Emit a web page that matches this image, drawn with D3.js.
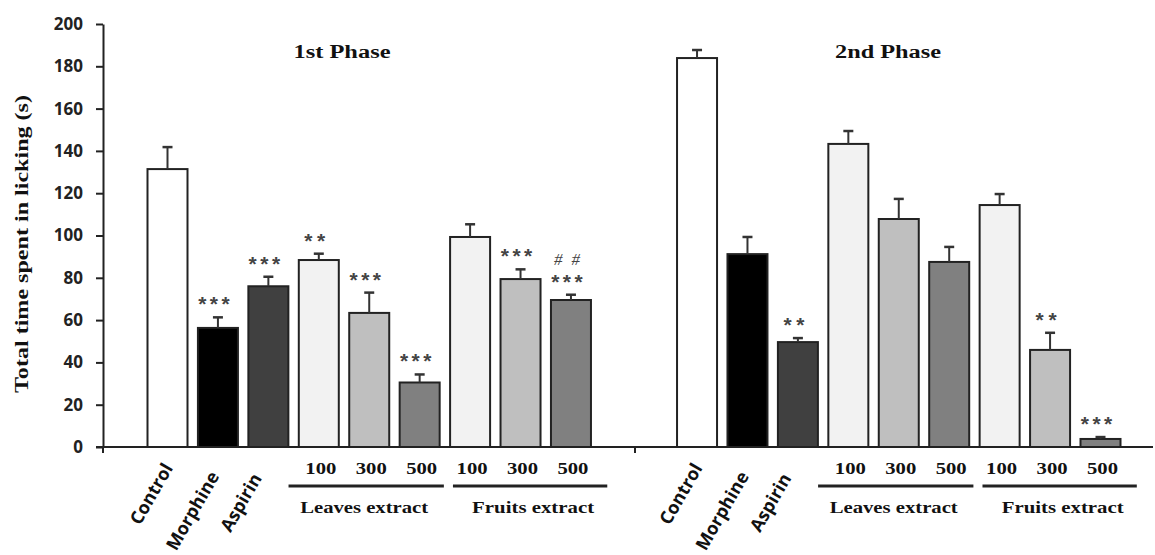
<!DOCTYPE html>
<html>
<head>
<meta charset="utf-8">
<script src="https://cdn.jsdelivr.net/npm/d3@7"></script>
<style>
  body { margin: 0; background: #fff; }
</style>
</head>
<body>
<script>
// DATA
var treatments = ["Control", "Morphine", "Aspirin", "Leaves 100", "Leaves 300", "Leaves 500", "Fruits 100", "Fruits 300", "Fruits 500"];
var phases = ["1st Phase", "2nd Phase"];
var phase1Mean = [131.4, 56.3, 76.0, 88.4, 63.4, 30.5, 99.3, 79.4, 69.5];
var phase1Err = [10.4, 5.0, 4.5, 3.0, 9.6, 3.8, 6.0, 4.6, 2.5];
var phase2Mean = [183.9, 91.2, 49.6, 143.3, 107.8, 87.5, 114.4, 45.9, 3.8];
var phase2Err = [3.8, 8.1, 1.9, 6.1, 9.5, 7.1, 5.2, 8.1, 0.9];
var phase1Stars = ["", "***", "***", "**", "***", "***", "", "***", "***"];
var phase1Hash = ["", "", "", "", "", "", "", "", "# #"];
var phase2Stars = ["", "", "**", "", "", "", "", "**", "***"];
var phase2Hash = ["", "", "", "", "", "", "", "", ""];
var drugLabels = ["Control", "Morphine", "Aspirin"];
var doses = ["100", "300", "500"];
var extracts = ["Leaves extract", "Fruits extract"];
var yTicks = [0, 20, 40, 60, 80, 100, 120, 140, 160, 180, 200];

var fills = ["#ffffff", "#000000", "#404040", "#f2f2f2", "#bfbfbf", "#808080", "#f2f2f2", "#bfbfbf", "#808080"];

var width = 1155, height = 555;
var svg = d3.select("body").append("svg")
    .attr("width", width)
    .attr("height", height);

svg.append("rect").attr("width", width).attr("height", height).attr("fill", "#fff");

// SCALES
var y = d3.scaleLinear().domain([0, 200]).range([447, 24]);
// slot index -> bar centre; second phase starts at slot 10.5
var slot = d3.scaleLinear().domain([0, 18.5]).range([167.5, 1100.5]);
var phaseOffset = [0, 10.5];
var barW = 40;

var rows = [];
phases.forEach(function(p, pi) {
    var means = pi === 0 ? phase1Mean : phase2Mean;
    var errs = pi === 0 ? phase1Err : phase2Err;
    var stars = pi === 0 ? phase1Stars : phase2Stars;
    var hash = pi === 0 ? phase1Hash : phase2Hash;
    treatments.forEach(function(t, i) {
        rows.push({phase: pi, i: i, name: t, mean: means[i], err: errs[i], stars: stars[i], hash: hash[i],
                   cx: slot(i + phaseOffset[pi])});
    });
});

// Y AXIS
var yAxis = d3.axisLeft(y).tickValues(yTicks).tickSize(7).tickSizeOuter(0).tickPadding(13);
var gy = svg.append("g").attr("transform", "translate(103,0)").call(yAxis);
gy.select(".domain").attr("stroke", "#222").attr("stroke-width", 2);
gy.selectAll(".tick line").attr("stroke", "#222").attr("stroke-width", 2);
gy.selectAll(".tick text")
    .attr("font-family", "'Open Sans', sans-serif")
    .attr("font-weight", "bold")
    .attr("font-size", 17)
    .attr("fill", "#222");
svg.append("line").attr("x1", 103).attr("x2", 103).attr("y1", y(0)).attr("y2", y(0) + 6)
    .attr("stroke", "#222").attr("stroke-width", 2);

// X AXIS LINE
svg.append("line").attr("x1", 96).attr("x2", 1153).attr("y1", y(0)).attr("y2", y(0))
    .attr("stroke", "#222").attr("stroke-width", 2);
svg.append("line").attr("x1", 635).attr("x2", 635).attr("y1", y(0)).attr("y2", y(0) + 6)
    .attr("stroke", "#222").attr("stroke-width", 2);

// BARS
svg.selectAll("rect.bar").data(rows).enter().append("rect")
    .attr("class", "bar")
    .attr("x", function(d) { return d.cx - barW / 2; })
    .attr("y", function(d) { return y(d.mean); })
    .attr("width", barW)
    .attr("height", function(d) { return y(0) - y(d.mean); })
    .attr("fill", function(d) { return fills[d.i]; })
    .attr("stroke", "#222")
    .attr("stroke-width", 2);

// ERROR BARS
var eb = svg.selectAll("g.err").data(rows).enter().append("g").attr("class", "err");
eb.append("line")
    .attr("x1", function(d) { return d.cx; }).attr("x2", function(d) { return d.cx; })
    .attr("y1", function(d) { return y(d.mean); })
    .attr("y2", function(d) { return y(d.mean + d.err); })
    .attr("stroke", "#333").attr("stroke-width", 2);
eb.append("line")
    .attr("x1", function(d) { return d.cx - 5; }).attr("x2", function(d) { return d.cx + 5; })
    .attr("y1", function(d) { return y(d.mean + d.err); })
    .attr("y2", function(d) { return y(d.mean + d.err); })
    .attr("stroke", "#333").attr("stroke-width", 2.5);

// SIGNIFICANCE MARKS
svg.selectAll("text.star").data(rows.filter(function(d) { return d.stars; })).enter().append("text")
    .attr("class", "star")
    .attr("x", function(d) { return d.cx - 4; })
    .attr("y", function(d) { return y(d.mean + d.err) - 6; })
    .attr("text-anchor", "middle")
    .attr("font-family", "'Liberation Sans', sans-serif")
    .attr("font-weight", "bold")
    .attr("font-size", 21)
    .attr("fill", "#444")
    .attr("textLength", function(d) { return d.stars.length * 10.5; })
    .attr("lengthAdjust", "spacing")
    .text(function(d) { return d.stars; });

svg.selectAll("text.hash").data(rows.filter(function(d) { return d.hash; })).enter().append("text")
    .attr("class", "hash")
    .attr("x", function(d) { return d.cx - 4; })
    .attr("y", function(d) { return y(d.mean + d.err) - 30; })
    .attr("text-anchor", "middle")
    .attr("font-family", "'Liberation Serif', serif")
    .attr("font-style", "italic")
    .attr("font-size", 17)
    .attr("fill", "#444")
    .attr("textLength", 26)
    .attr("lengthAdjust", "spacing")
    .text(function(d) { return d.hash; });

// PHASE TITLES
var titleX = [342, 888];
svg.selectAll("text.phase").data(phases).enter().append("text")
    .attr("x", function(d, i) { return titleX[i]; })
    .attr("y", 58)
    .attr("text-anchor", "middle")
    .attr("font-family", "'Liberation Serif', serif")
    .attr("font-weight", "bold")
    .attr("font-size", 18)
    .attr("fill", "#111")
    .attr("textLength", function(d, i) { return i === 0 ? 97 : 106; })
    .attr("lengthAdjust", "spacingAndGlyphs")
    .text(function(d) { return d; });

// Y AXIS TITLE
svg.append("text")
    .attr("transform", "translate(28,244) rotate(-90)")
    .attr("text-anchor", "middle")
    .attr("font-family", "'Liberation Serif', serif")
    .attr("font-weight", "bold")
    .attr("font-size", 18)
    .attr("fill", "#111")
    .attr("textLength", 298)
    .attr("lengthAdjust", "spacingAndGlyphs")
    .text("Total time spent in licking (s)");

// X LABELS (ROTATED DRUG NAMES)
var labelDx = [6, 2, -6];
var labelY = [468, 476, 478];
phases.forEach(function(p, pi) {
    drugLabels.forEach(function(lab, i) {
        var x0 = slot(i + phaseOffset[pi]) + labelDx[i];
        svg.append("text")
            .attr("transform", "translate(" + x0 + "," + labelY[i] + ") rotate(-60)")
            .attr("text-anchor", "end")
            .attr("font-family", "'Open Sans', sans-serif")
            .attr("font-weight", "bold")
            .attr("font-size", 18)
            .attr("fill", "#111")
            .text(lab);
    });

    // DOSES, UNDERLINES AND EXTRACT NAMES
    var lineSpan = [[2.4, 5.48], [5.66, 8.72]];
    var nameSlot = [3.9, 7.25];
    extracts.forEach(function(ex, ei) {
        doses.forEach(function(ds, di) {
            svg.append("text")
                .attr("x", slot(3 + ei * 3 + di + phaseOffset[pi]) + 2)
                .attr("y", 474)
                .attr("text-anchor", "middle")
                .attr("font-family", "'Liberation Serif', serif")
                .attr("font-weight", "bold")
                .attr("font-size", 17)
                .attr("fill", "#111")
                .attr("textLength", 31)
                .attr("lengthAdjust", "spacingAndGlyphs")
                .text(ds);
        });
        svg.append("line")
            .attr("x1", slot(lineSpan[ei][0] + phaseOffset[pi]))
            .attr("x2", slot(lineSpan[ei][1] + phaseOffset[pi]))
            .attr("y1", 486).attr("y2", 486)
            .attr("stroke", "#222").attr("stroke-width", 3);
        svg.append("text")
            .attr("x", slot(nameSlot[ei] + phaseOffset[pi]))
            .attr("y", 513)
            .attr("text-anchor", "middle")
            .attr("font-family", "'Liberation Serif', serif")
            .attr("font-weight", "bold")
            .attr("font-size", 17)
            .attr("fill", "#111")
            .attr("textLength", ei === 0 ? 128 : 122)
            .attr("lengthAdjust", "spacingAndGlyphs")
            .text(ex);
    });
});
</script>
</body>
</html>
